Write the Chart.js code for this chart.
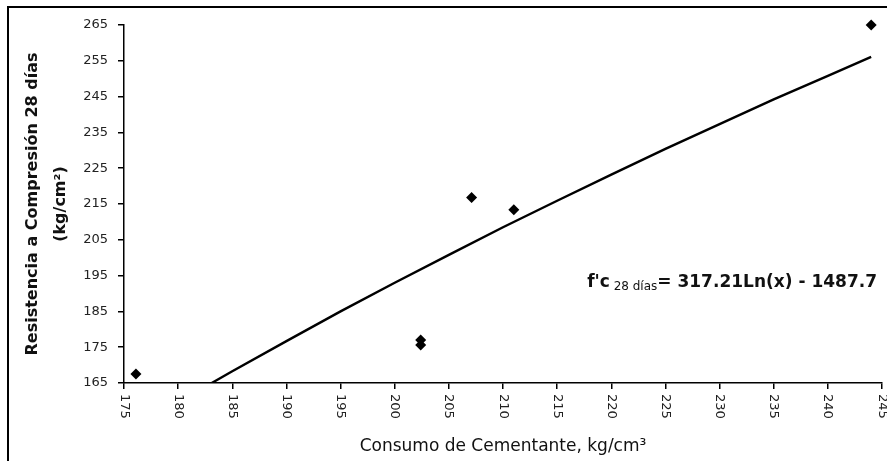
<!DOCTYPE html>
<html><head><meta charset="utf-8">
<script src="https://cdn.jsdelivr.net/npm/chart.js@4/dist/chart.umd.min.js"></script>
<style>html,body{margin:0;padding:0;background:#fff;}#wrap{width:887px;height:461px;position:relative;}</style>
</head><body><div id="wrap"><canvas id="c" width="887" height="461"></canvas></div>
<script>
// ---- data ----
const xTickLabels = [175,180,185,190,195,200,205,210,215,220,225,230,235,240,245];
const yTickLabels = [165,175,185,195,205,215,225,235,245,255,265];
const cementContent = [176.1, 202.4, 202.4, 207.1, 211.0, 244.0];
const strength28d   = [167.5, 177.0, 175.6, 216.8, 213.4, 265.0];
// logarithmic trend line as drawn
const trendX = [183.1, 185, 190, 195, 200, 205, 210, 215, 220, 225, 230, 235, 240, 244];
const trendY = [165.0, 168.3, 176.7, 185.0, 193.0, 200.8, 208.5, 215.9, 223.2, 230.4, 237.3, 244.2, 250.8, 256.1];
const xTitle = 'Consumo de Cementante, kg/cm³';
const yTitle = ['Resistencia a Compresión 28 días', '(kg/cm²)'];
const eqMain = "f'c";
const eqSub = ' 28 días';
const eqRest = '= 317.21Ln(x) - 1487.7';

const FONT = '"DejaVu Sans", "Liberation Sans", sans-serif';

const pts = cementContent.map((x,i)=>({x, y: strength28d[i]}));
const trend = trendX.map((x,i)=>({x, y: trendY[i]}));

const overlay = {
  id: 'overlay',
  afterDraw(chart) {
    const ctx = chart.ctx;
    const xs = chart.scales.x;
    ctx.save();
    // outer frame
    ctx.strokeStyle = '#000';
    ctx.lineWidth = 2;
    ctx.strokeRect(8, 7, 900, 500);
    // rotated x tick labels (reading top to bottom)
    ctx.fillStyle = '#222';
    ctx.font = '13px ' + FONT;
    ctx.textAlign = 'left';
    ctx.textBaseline = 'middle';
    xs.ticks.forEach(t => {
      const px = xs.getPixelForValue(t.value);
      ctx.save();
      ctx.translate(px, chart.chartArea.bottom + 11);
      ctx.rotate(Math.PI/2);
      ctx.fillText(String(t.value), 0, 0);
      ctx.restore();
    });
    // equation
    const bold = 'bold 17px ' + FONT;
    const small = '12px ' + FONT;
    ctx.fillStyle = '#111';
    ctx.textBaseline = 'alphabetic';
    ctx.font = bold; const w1 = ctx.measureText(eqMain).width; const w3 = ctx.measureText(eqRest).width;
    ctx.font = small; const w2 = ctx.measureText(eqSub).width;
    let x0 = 877 - (w1 + w2 + w3);
    const base = 287;
    ctx.font = bold; ctx.fillText(eqMain, x0, base);
    ctx.font = small; ctx.fillText(eqSub, x0 + w1, base + 3);
    ctx.font = bold; ctx.fillText(eqRest, x0 + w1 + w2, base);
    ctx.restore();
  }
};

new Chart(document.getElementById('c'), {
  type: 'scatter',
  data: {
    datasets: [
      { label: 'Datos', data: pts, pointStyle: 'rectRot', pointRadius: 5.5, pointHoverRadius: 5.5,
        backgroundColor: '#000', borderColor: '#000', borderWidth: 0, showLine: false, clip: false, order: 1 },
      { label: 'Tendencia', data: trend, showLine: true, pointRadius: 0, borderColor: '#000',
        borderWidth: 2.4, fill: false, tension: 0, order: 2 }
    ]
  },
  options: {
    responsive: false,
    animation: false,
    events: [],
    layout: { autoPadding: false, padding: { left: 0, right: 5, top: 25, bottom: 0 } },
    plugins: { legend: { display: false }, tooltip: { enabled: false } },
    scales: {
      x: {
        type: 'linear', min: 175, max: 245,
        afterBuildTicks(s) { s.ticks = xTickLabels.map(v => ({ value: v })); },
        ticks: { display: false },
        grid: { display: true, drawOnChartArea: false, drawTicks: true, tickLength: 6, color: '#000', lineWidth: 1.5 },
        border: { display: true, color: '#000', width: 1.5 },
        title: { display: true, text: xTitle, color: '#111', font: { family: FONT, size: 17 }, padding: { top: 0, bottom: 4 } },
        afterFit(s) { s.height = 461 - 383; }
      },
      y: {
        type: 'linear', min: 165, max: 265,
        afterBuildTicks(s) { s.ticks = yTickLabels.map(v => ({ value: v })); },
        ticks: { color: '#222', font: { family: FONT, size: 13 }, padding: 10 },
        grid: { display: true, drawOnChartArea: false, drawTicks: true, tickLength: 6, color: '#000', lineWidth: 1.5 },
        border: { display: true, color: '#000', width: 1.5 },
        title: { display: true, text: yTitle, color: '#111', font: { family: FONT, size: 16, weight: 'bold', lineHeight: 1.75 }, padding: { top: 19, bottom: 0 } },
        afterFit(s) { s.width = 124; }
      }
    }
  },
  plugins: [overlay]
});
</script></body></html>
